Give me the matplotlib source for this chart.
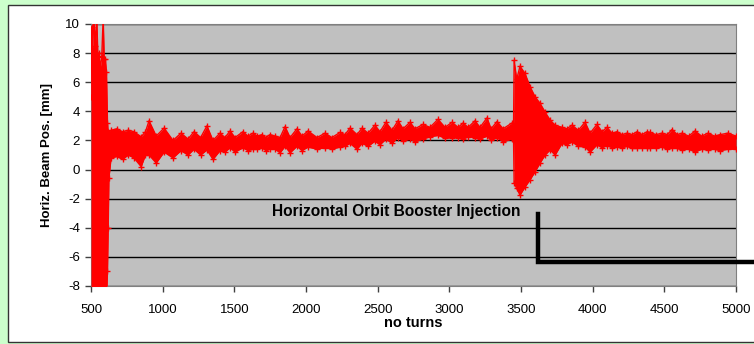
import matplotlib
matplotlib.use("Agg")
import matplotlib.pyplot as plt
from matplotlib.patches import Rectangle

plt.rcParams['font.family'] = ['Liberation Sans', 'DejaVu Sans']
plt.rcParams['axes.unicode_minus'] = False

# turn number and envelope (low / high) of the horizontal beam position [mm]
turns = [500, 505, 512, 520, 530, 540, 548, 556, 565, 575, 585, 592, 600, 608, 615, 620, 625,
         640, 680, 720, 760, 800, 850, 880, 905, 955, 1010, 1072, 1128, 1177, 1219, 1265,
         1309, 1351, 1400, 1435, 1470, 1505, 1560, 1595, 1630, 1660, 1693, 1720, 1749, 1785,
         1819, 1854, 1889, 1937, 1972, 2014, 2077, 2133, 2181, 2237, 2272, 2307, 2356, 2391,
         2433, 2481, 2516, 2558, 2600, 2642, 2677, 2726, 2760, 2816, 2865, 2921, 2970, 3019,
         3061, 3096, 3131, 3179, 3214, 3263, 3291, 3333, 3375, 3437, 3448,
         3452, 3470, 3493, 3528, 3563, 3598, 3633, 3668, 3703, 3738, 3786, 3820, 3856, 3900,
         3947, 3982, 4030, 4065, 4100, 4135, 4170, 4205, 4240, 4275, 4310, 4345, 4380, 4400,
         4442, 4484, 4520, 4554, 4590, 4624, 4670, 4714, 4760, 4805, 4850, 4889, 4944, 5000]

pos_high = [5.0, 9.8, 8.2, 10.5, 8.5, 10.5, 7.8, 8.0, 7.0, 7.7, 10.5, 7.6, 7.6, 6.7, 3.2, 2.6, 2.5,
            2.7, 2.8, 2.6, 2.7, 2.6, 2.25, 2.6, 3.35, 2.3, 2.85, 2.0, 2.5, 2.1, 2.6, 2.2,
            3.0, 2.0, 2.5, 2.2, 2.65, 2.2, 2.6, 2.3, 2.5, 2.3, 2.4, 2.2, 2.4, 2.3,
            2.2, 2.95, 2.2, 2.8, 2.3, 2.65, 2.2, 2.5, 2.2, 2.55, 2.4, 2.85, 2.4, 2.85,
            2.5, 3.05, 2.6, 3.25, 2.7, 3.35, 2.8, 3.25, 2.8, 3.1, 2.9, 3.45, 2.9, 3.25,
            2.9, 3.2, 2.9, 3.35, 2.9, 3.55, 2.8, 3.3, 2.8, 3.2, 3.0,
            7.5, 6.2, 7.1, 6.6, 5.7, 5.0, 4.55, 3.95, 3.4, 3.05, 2.9, 2.8, 3.05, 2.7,
            3.25, 2.5, 3.1, 2.6, 2.9, 2.5, 2.6, 2.4, 2.5, 2.4, 2.6, 2.4, 2.6, 2.55,
            2.4, 2.5, 2.4, 2.75, 2.4, 2.5, 2.3, 2.65, 2.3, 2.5, 2.3, 2.4, 2.5, 2.3]

pos_low = [-9.0, -9.0, -9.0, -9.0, -9.0, -9.0, -9.0, -9.0, -9.0, -9.0, -9.0, -9.0, -9.0, -9.0, -7.0, -4.0, -0.6,
           0.8, 0.9, 0.7, 1.0, 0.8, 0.2, 1.0, 1.0, 0.45, 1.2, 0.8, 1.3, 1.0, 1.4, 1.0,
           1.35, 0.7, 1.3, 1.2, 1.5, 1.2, 1.5, 1.3, 1.4, 1.4, 1.5, 1.3, 1.4, 1.4,
           1.15, 1.6, 1.15, 1.6, 1.3, 1.55, 1.4, 1.5, 1.4, 1.55, 1.6, 1.8, 1.4, 1.8,
           1.6, 1.95, 1.7, 2.1, 1.8, 2.2, 1.95, 2.1, 1.9, 2.1, 2.25, 2.35, 2.15, 2.2,
           2.2, 2.1, 2.25, 2.2, 2.1, 2.3, 2.0, 2.2, 1.9, 2.1, 2.0,
           -0.9, -1.3, -1.75, -1.2, -0.7, -0.15, 0.45, 1.0, 1.35, 1.0, 1.8, 1.7, 1.9, 1.6,
           1.55, 1.2, 1.7, 1.5, 1.65, 1.5, 1.55, 1.5, 1.6, 1.45, 1.45, 1.5, 1.45, 1.5,
           1.45, 1.55, 1.4, 1.5, 1.45, 1.35, 1.4, 1.2, 1.4, 1.35, 1.4, 1.3, 1.4, 1.4]

x_ticks = [500, 1000, 1500, 2000, 2500, 3000, 3500, 4000, 4500, 5000]
y_ticks = [-8, -6, -4, -2, 0, 2, 4, 6, 8, 10]

W, H = 754, 344
fig = plt.figure(figsize=(W / 100, H / 100), dpi=100)
fig.patch.set_facecolor('#ccffcc')

# white chart panel with dark border
fig.patches.append(Rectangle((8 / W, 2 / H), 1.0, 337 / H, transform=fig.transFigure,
                             facecolor='white', edgecolor='#333333', lw=1.0, zorder=-10))

ax = fig.add_axes([91 / W, 58 / H, 645 / W, 262 / H])
ax.set_facecolor('#c0c0c0')

ax.fill_between(turns, pos_low, pos_high, color='red', lw=0, zorder=3)
ax.plot(turns, pos_high, color='red', lw=1, marker='+', ms=4, mew=1, zorder=3)
ax.plot(turns, pos_low, color='red', lw=1, marker='+', ms=4, mew=1, zorder=3)

ax.set_xlim(500, 5000)
ax.set_ylim(-8, 10)
ax.set_xticks(x_ticks)
ax.set_yticks(y_ticks)
ax.grid(axis='y', color='black', lw=1, zorder=1)
ax.set_axisbelow(True)
for s in ax.spines.values():
    s.set_color('#808080')
ax.tick_params(direction='out', length=4, width=1, color='#404040', labelsize=9.5)
ax.tick_params(axis='x', pad=9)
ax.tick_params(axis='y', pad=4)

ax.set_xlabel('no turns', fontsize=10.5, fontweight='bold', labelpad=0)
ax.set_ylabel('Horiz. Beam Pos. [mm]', fontsize=9.5, fontweight='bold', labelpad=9)

# annotation
ax.text(1763, -2.9, 'Horizontal Orbit Booster Injection', fontsize=11.2, fontweight='bold',
        ha='left', va='center', zorder=5)
ax.plot([3619, 3619, 5130], [-3.05, -6.35, -6.35], color='black', lw=3.2,
        solid_joinstyle='miter', clip_on=False, zorder=5)

fig.savefig('out.png', dpi=100, facecolor=fig.get_facecolor())
